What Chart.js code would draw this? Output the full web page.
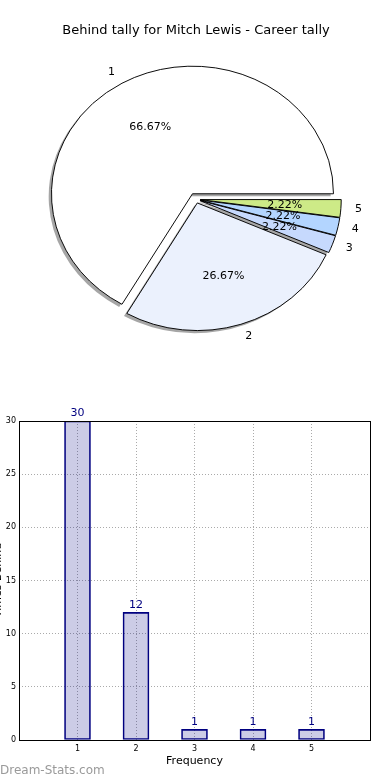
<!DOCTYPE html>
<html>
<head>
<meta charset="utf-8">
<script src="https://cdn.jsdelivr.net/npm/chart.js@4.4.1/dist/chart.umd.min.js"></script>
<style>
  body { margin: 0; background: #fff; width: 390px; height: 780px; position: relative; overflow: hidden; }
  #pieBox { position: absolute; left: 0; top: 0; width: 390px; height: 395px; }
  #barBox { position: absolute; left: 0; top: 395px; width: 390px; height: 385px; }
</style>
</head>
<body>
<div id="pieBox"><canvas id="pieChart"></canvas></div>
<div id="barBox"><canvas id="barChart"></canvas></div>
<script>
const pieTitle = 'Behind tally for Mitch Lewis - Career tally';
const categories = ['1', '2', '3', '4', '5'];
const tally = [30, 12, 1, 1, 1];
const categoryPositions = [1, 2, 3, 4, 5];
const yTicks = [0, 5, 10, 15, 20, 25, 30];
const sliceColors = ['#ffffff', '#ebf1fd', '#c6d9fd', '#b3d5ff', '#cdea87'];
const explode = [0.05, 0.03, 0.03, 0.03, 0.03];

Chart.defaults.font.family = "'DejaVu Sans', sans-serif";
Chart.defaults.color = '#000';

const total = tally.reduce((a, b) => a + b, 0);
const pieR = 141;
const squash = 0.905;

// matplotlib runs counter-clockwise from 3 o'clock, chart.js clockwise -> reverse order
const pieLabels = categories.slice().reverse();
const pieData = tally.slice().reverse();
const pieColors = sliceColors.slice().reverse();
const pieExplode = explode.slice().reverse();

const piePlugin = {
  id: 'mplPie',
  beforeDatasetDraw(chart, args) {
    const ctx = chart.ctx;
    const arcs = args.meta.data;
    const cx = arcs[0].x, cy = arcs[0].y;
    ctx.save();
    ctx.translate(cx, cy);
    ctx.scale(1, squash);
    ctx.translate(-cx, -cy);
    // shadows first (they sit under every wedge)
    for (let i = arcs.length - 1; i >= 0; i--) {
      const a = arcs[i];
      const mid = (a.startAngle + a.endAngle) / 2;
      const d = pieExplode[i] * a.outerRadius;
      ctx.save();
      ctx.translate(Math.cos(mid) * d - 2.8, Math.sin(mid) * d + 2.6 / squash);
      ctx.beginPath();
      ctx.moveTo(a.x, a.y);
      ctx.arc(a.x, a.y, a.outerRadius, a.startAngle, a.endAngle);
      ctx.closePath();
      ctx.fillStyle = 'rgba(77,77,77,0.5)';
      ctx.fill();
      ctx.restore();
    }
    for (let i = arcs.length - 1; i >= 0; i--) {
      const a = arcs[i];
      const mid = (a.startAngle + a.endAngle) / 2;
      const d = pieExplode[i] * a.outerRadius;
      ctx.save();
      ctx.translate(Math.cos(mid) * d, Math.sin(mid) * d);
      a.draw(ctx);
      ctx.restore();
    }
    ctx.restore();
    return false;
  },
  afterDatasetsDraw(chart) {
    const ctx = chart.ctx;
    const arcs = chart.getDatasetMeta(0).data;
    ctx.save();
    ctx.font = "11px 'DejaVu Sans', sans-serif";
    ctx.fillStyle = '#000';
    ctx.textBaseline = 'middle';
    arcs.forEach((a, i) => {
      const mid = (a.startAngle + a.endAngle) / 2;
      const R = a.outerRadius;
      const d = pieExplode[i] * R;
      const cos = Math.cos(mid), sin = Math.sin(mid);
      const lx = a.x + cos * (d + 1.1 * R);
      const ly = a.y + sin * (d + 1.1 * R) * squash;
      ctx.textAlign = cos >= 0 ? 'left' : 'right';
      ctx.fillText(pieLabels[i], lx, ly);
      const px = a.x + cos * (d + 0.6 * R);
      const py = a.y + sin * (d + 0.6 * R) * squash;
      ctx.textAlign = 'center';
      ctx.fillText((pieData[i] / total * 100).toFixed(2) + '%', px, py);
    });
    ctx.restore();
  }
};

new Chart(document.getElementById('pieChart'), {
  type: 'pie',
  data: {
    labels: pieLabels,
    datasets: [{
      data: pieData,
      backgroundColor: pieColors,
      borderColor: '#000',
      borderWidth: 1
    }]
  },
  options: {
    responsive: true,
    maintainAspectRatio: false,
    animation: false,
    rotation: 90,
    radius: pieR,
    layout: { padding: { left: 22, right: 20, top: 0, bottom: 35 } },
    plugins: {
      legend: { display: false },
      tooltip: { enabled: false },
      title: {
        display: true,
        text: pieTitle,
        font: { size: 13, weight: 'normal' },
        color: '#000',
        padding: { top: 23, bottom: 0 }
      }
    }
  },
  plugins: [piePlugin]
});

const barPlugin = {
  id: 'mplBar',
  afterDatasetsDraw(chart) {
    const ctx = chart.ctx;
    const area = chart.chartArea;
    const bars = chart.getDatasetMeta(0).data;
    ctx.save();
    ctx.font = "11px 'DejaVu Sans', sans-serif";
    ctx.fillStyle = '#000080';
    ctx.textAlign = 'center';
    ctx.textBaseline = 'bottom';
    bars.forEach((b, i) => ctx.fillText(String(tally[i]), b.x, b.y - 2));
    ctx.strokeStyle = '#000';
    ctx.lineWidth = 1;
    ctx.strokeRect(area.left + 0.5, area.top + 0.5, area.right - area.left, area.bottom - area.top);
    ctx.restore();
  },
  afterDraw(chart) {
    const ctx = chart.ctx;
    ctx.save();
    ctx.translate(-2, 185);
    ctx.rotate(-Math.PI / 2);
    ctx.font = "11px 'DejaVu Sans', sans-serif";
    ctx.fillStyle = '#000';
    ctx.textAlign = 'center';
    ctx.textBaseline = 'middle';
    ctx.fillText('Times Behind', 0, 0);
    ctx.restore();
    ctx.save();
    ctx.font = "12px 'DejaVu Sans', sans-serif";
    ctx.fillStyle = '#9a9a9a';
    ctx.textAlign = 'left';
    ctx.textBaseline = 'middle';
    ctx.fillText('Dream-Stats.com', 0, 376);
    ctx.restore();
  }
};

const gridStyle = { color: '#aaaaaa', drawTicks: false, offset: false };

new Chart(document.getElementById('barChart'), {
  type: 'bar',
  data: {
    datasets: [{
      data: categoryPositions.map((x, i) => ({ x: x, y: tally[i] })),
      backgroundColor: 'rgba(0,0,128,0.2)',
      borderColor: '#000080',
      borderWidth: 1,
      borderSkipped: false,
      barThickness: 26
    }]
  },
  options: {
    responsive: true,
    maintainAspectRatio: false,
    animation: false,
    layout: { padding: { top: 26, right: 20, left: 0, bottom: 0 } },
    plugins: { legend: { display: false }, tooltip: { enabled: false } },
    scales: {
      x: {
        type: 'linear',
        offset: false,
        min: 0,
        max: 6,
        afterBuildTicks(s) { s.ticks = categoryPositions.map(v => ({ value: v })); },
        afterFit(s) { s.height = 40; },
        ticks: { font: { size: 8 }, padding: 4, color: '#000' },
        grid: gridStyle,
        border: { display: false, dash: [1, 2] },
        title: { display: true, text: 'Frequency', font: { size: 11 }, color: '#000', padding: { top: 0, bottom: 12 } }
      },
      y: {
        min: 0,
        max: 30,
        afterBuildTicks(s) { s.ticks = yTicks.map(v => ({ value: v })); },
        afterFit(s) { s.width = 19; },
        ticks: { font: { size: 8 }, padding: 3, color: '#000' },
        grid: gridStyle,
        border: { display: false, dash: [1, 2] }
      }
    }
  },
  plugins: [barPlugin]
});
</script>
</body>
</html>
